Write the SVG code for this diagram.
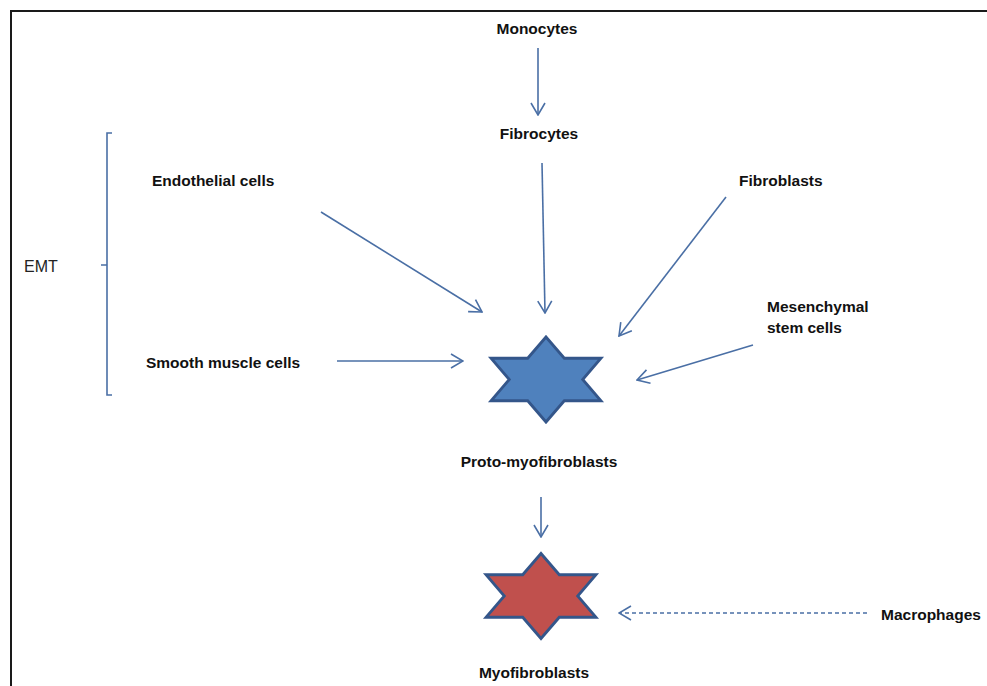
<svg xmlns="http://www.w3.org/2000/svg" width="987" height="686" viewBox="0 0 987 686">
  <style>
    .lbl { font-family: "Liberation Sans", Arial, sans-serif; font-size: 15.5px; font-weight: bold; fill: #111; }
    .plain { font-family: "Liberation Sans", Arial, sans-serif; font-size: 16px; fill: #222; }
    .conn { stroke: #4a6fa5; stroke-width: 1.6; fill: none; marker-end: url(#arrow); }
    .dash { stroke-dasharray: 4 3; }
    .brace { stroke: #4a6fa5; stroke-width: 1.6; fill: none; }
    .star { stroke: #34568a; stroke-width: 2.8; stroke-linejoin: miter; }
  </style>
  <defs>
    <marker id="arrow" markerUnits="userSpaceOnUse" viewBox="0 0 14 16" refX="13" refY="8" markerWidth="14" markerHeight="16" orient="auto">
      <path d="M1,1 L13,8 L1,15" fill="none" stroke="#4a6fa5" stroke-width="1.6"/>
    </marker>
    <path id="hexagram" d="M0,-42.5 L18.3,-21.25 L55,-21.25 L36.7,0 L55,21.25 L18.3,21.25 L0,42.5 L-18.3,21.25 L-55,21.25 L-36.7,0 L-55,-21.25 L-18.3,-21.25 Z"/>
  </defs>

  <rect width="987" height="686" fill="#fff"/>
  <!-- frame -->
  <path d="M11,686 L11,11 L987,11" fill="none" stroke="#1a1a1a" stroke-width="2"/>

  <!-- connectors -->
  <g id="connectors">
    <line class="conn" x1="538" y1="48" x2="538" y2="115"/>
    <line class="conn" x1="542" y1="163" x2="545" y2="313"/>
    <line class="conn" x1="321" y1="212" x2="482" y2="312"/>
    <line class="conn" x1="726" y1="197" x2="619" y2="336"/>
    <line class="conn" x1="753" y1="345" x2="637" y2="380"/>
    <line class="conn" x1="337" y1="361" x2="463" y2="361"/>
    <line class="conn" x1="541" y1="497" x2="541" y2="537"/>
    <line class="conn dash" x1="867" y1="613" x2="619" y2="613"/>
  </g>

  <!-- EMT bracket -->
  <g id="emt">
    <path class="brace" d="M112,133 L107,133 L107,395 L112,395 M107,265 L101,265"/>
    <text class="plain" x="24" y="272">EMT</text>
  </g>

  <g id="monocytes"><text class="lbl" x="537" y="34" text-anchor="middle">Monocytes</text></g>
  <g id="fibrocytes"><text class="lbl" x="539" y="139" text-anchor="middle">Fibrocytes</text></g>
  <g id="endothelial"><text class="lbl" x="152" y="186">Endothelial cells</text></g>
  <g id="fibroblasts"><text class="lbl" x="739" y="186">Fibroblasts</text></g>
  <g id="mesenchymal">
    <text class="lbl" x="767" y="312">Mesenchymal</text>
    <text class="lbl" x="767" y="333">stem cells</text>
  </g>
  <g id="smooth-muscle"><text class="lbl" x="146" y="368">Smooth muscle cells</text></g>

  <g id="proto-myofibroblasts">
    <use href="#hexagram" class="star" fill="#4f81bd" transform="translate(546,379.5)"/>
    <text class="lbl" x="539" y="467" text-anchor="middle">Proto-myofibroblasts</text>
  </g>

  <g id="myofibroblasts">
    <use href="#hexagram" class="star" fill="#c0504d" transform="translate(541,596)"/>
    <text class="lbl" x="534" y="678" text-anchor="middle">Myofibroblasts</text>
  </g>

  <g id="macrophages"><text class="lbl" x="881" y="620">Macrophages</text></g>
</svg>
